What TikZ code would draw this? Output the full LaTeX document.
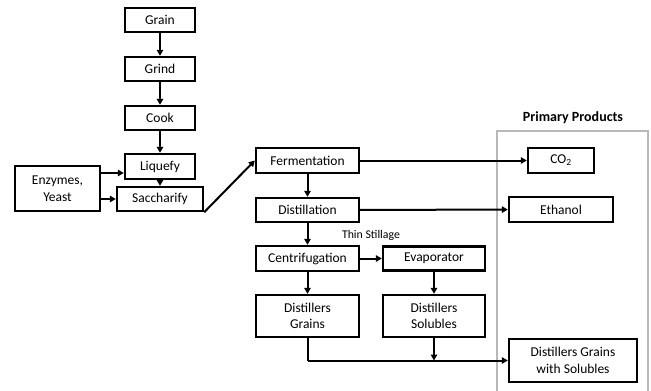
\documentclass[tikz,border=0pt]{standalone}
\usepackage{fontspec}
\setmainfont{Carlito}
\usetikzlibrary{arrows.meta}
\begin{document}
\begin{tikzpicture}[x=1pt,y=-1pt,
  box/.style={draw=black,line width=2.4pt,fill=white,inner sep=0pt,align=center,
    font=\fontsize{13.5}{16.5}\selectfont},
  arr/.style={line width=2pt,-{Triangle[length=6pt,width=6.5pt]}},
  ln/.style={line width=2pt}]
\useasboundingbox (0,0) rectangle (651,391);
% gray product frame
\draw[line width=2.4pt,draw=black!28] (497,395) -- (497,131) -- (648,131) -- (648,395);
\node[font=\bfseries\fontsize{14}{16}\selectfont] (pp) at (573,118) {Primary Products};
% nodes
\node[box,minimum width=70pt,minimum height=24pt] (grain) at (160,20) {Grain};
\node[box,minimum width=70pt,minimum height=24pt] (grind) at (160,69) {Grind};
\node[box,minimum width=70pt,minimum height=24pt] (cook) at (160,118) {Cook};
\node[box,minimum width=70pt,minimum height=25pt] (liq) at (160,166.5) {Liquefy};
\node[box,minimum width=86pt,minimum height=24pt] (sac) at (160,199) {Saccharify};
\node[box,minimum width=85pt,minimum height=45pt] (enz) at (57.5,188.5) {Enzymes,\\Yeast};
\node[box,minimum width=103pt,minimum height=25pt] (ferm) at (307.5,160.5) {Fermentation};
\node[box,minimum width=103pt,minimum height=24pt] (dist) at (307.5,210) {Distillation};
\node[box,minimum width=103pt,minimum height=25pt] (cent) at (307.5,258.5) {Centrifugation};
\node[box,minimum width=102pt,minimum height=24pt] (evap) at (434,258.5) {Evaporator};
\node[box,minimum width=103pt,minimum height=42pt] (dg) at (307.5,316) {Distillers\\Grains};
\node[box,minimum width=102pt,minimum height=42pt] (ds) at (434,316) {Distillers\\Solubles};
\node[box,minimum width=66pt,minimum height=25pt] (co2) at (561,160.5) {CO\textsubscript{2}};
\node[box,minimum width=104pt,minimum height=25pt] (eth) at (561,209.5) {Ethanol};
\node[box,minimum width=128pt,minimum height=43pt] (dgs) at (573,360.5) {Distillers Grains\\with Solubles};
\node[font=\fontsize{11.8}{14}\selectfont] (thin) at (371,235) {Thin Stillage};
\coordinate (join) at (dg.south |- dgs.west);
% connectors
\draw[arr] (grain) -- (grind);
\draw[arr] (grind) -- (cook);
\draw[arr] (cook) -- (liq);
\draw[arr] (liq) -- (sac);
\draw[arr] (enz.east |- 0,173) -- (liq.west |- 0,173);
\draw[arr] (enz.east |- sac.west) -- (sac.west);
\draw[arr] (sac.south east) -- (ferm.west);
\draw[arr] (ferm) -- (dist);
\draw[arr] (dist) -- (cent);
\draw[arr] (cent) -- (dg);
\draw[arr] (cent) -- (evap);
\draw[arr] (evap) -- (ds);
\draw[arr] (ferm) -- (co2);
\draw[arr] (dist) -- (eth);
\draw[ln] (dg.south) -- (join);
\draw[arr] (join) -- (dgs.west);
\draw[arr] (ds.south) -- (ds.south |- dgs.west);
\end{tikzpicture}
\end{document}
